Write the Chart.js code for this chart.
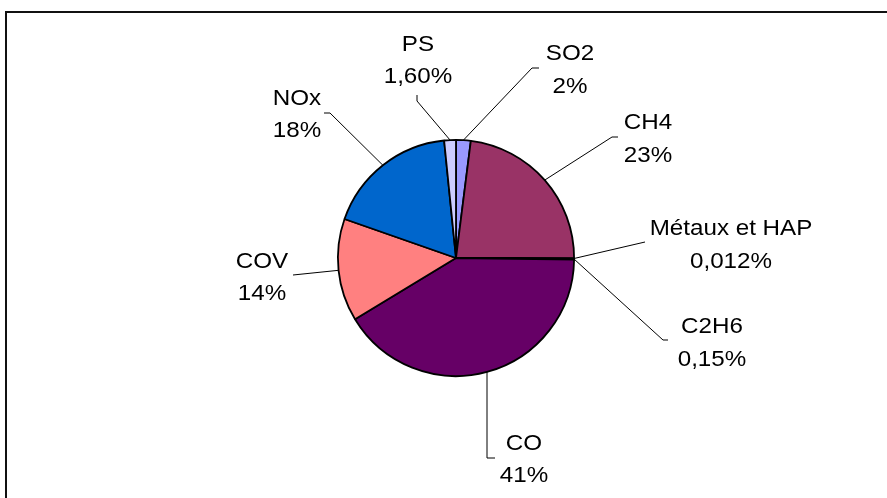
<!DOCTYPE html>
<html>
<head>
<meta charset="utf-8">
<script src="https://cdn.jsdelivr.net/npm/chart.js@4"></script>
<style>
  html, body { margin: 0; padding: 0; background: #fff; overflow: hidden; }
  #wrap { position: relative; width: 887px; height: 498px; }
  #frame { position: absolute; left: 5px; top: 11px; width: 1000px; height: 600px; border: 2px solid #111; box-sizing: border-box; }
  canvas { position: absolute; left: 0; top: 0; }
</style>
</head>
<body>
<div id="wrap">
  <div id="frame"></div>
  <canvas id="c" width="887" height="498"></canvas>
</div>
<script>
// données (ordre Excel : départ à midi, sens horaire)
const labels = ['SO2', 'CH4', 'Métaux et HAP', 'C2H6', 'CO', 'COV', 'NOx', 'PS'];
const values = [2, 23, 0.012, 0.15, 41, 14, 18, 1.6];
const pctText = ['2%', '23%', '0,012%', '0,15%', '41%', '14%', '18%', '1,60%'];
const colors = ['#9999FF', '#993366', '#FFFFCC', '#CCFFFF', '#660066', '#FF8080', '#0066CC', '#CCCCFF'];

// position des étiquettes (centre du texte, lignes de base) + coudes des traits de rappel
const labelPos = [
  { x: 570, y: 60, y2: 93, leader: [[539, 68], [532, 68]] },
  { x: 648, y: 129, y2: 162, leader: [[618, 137], [612, 137]] },
  { x: 731, y: 235, y2: 268, leader: [[645, 242]] },
  { x: 712, y: 333, y2: 366, leader: [[668, 340], [663, 340]] },
  { x: 524, y: 450, y2: 482, leader: [[495, 458], [487, 458]] },
  { x: 262, y: 268, y2: 300, leader: [[293, 275]] },
  { x: 297, y: 105, y2: 137, leader: [[324, 113], [330, 113]] },
  { x: 418, y: 51, y2: 83, leader: [[417, 95], [417, 101]] }
];

const labelPlugin = {
  id: 'labels',
  afterDatasetsDraw(chart) {
    const ctx = chart.ctx;
    const arcs = chart.getDatasetMeta(0).data;
    ctx.save();
    ctx.strokeStyle = '#000';
    ctx.lineWidth = 1;
    arcs.forEach((arc, i) => {
      const p = arc.getProps(['x', 'y', 'startAngle', 'endAngle', 'outerRadius'], true);
      const mid = (p.startAngle + p.endAngle) / 2;
      const ax = p.x + Math.cos(mid) * p.outerRadius;
      const ay = p.y + Math.sin(mid) * p.outerRadius;
      const lp = labelPos[i];
      ctx.beginPath();
      ctx.moveTo(lp.leader[0][0], lp.leader[0][1]);
      lp.leader.slice(1).forEach(pt => ctx.lineTo(pt[0], pt[1]));
      ctx.lineTo(ax, ay);
      ctx.stroke();
    });
    ctx.fillStyle = '#000';
    ctx.font = '22px "Liberation Sans", Arial, sans-serif';
    ctx.textAlign = 'center';
    ctx.textBaseline = 'alphabetic';
    arcs.forEach((arc, i) => {
      const lp = labelPos[i];
      [[labels[i], lp.y], [pctText[i], lp.y2]].forEach(([t, y]) => {
        ctx.save();
        ctx.translate(lp.x, y);
        ctx.scale(1.1, 1);
        ctx.fillText(t, 0, 0);
        ctx.restore();
      });
    });
    ctx.restore();
  }
};

new Chart(document.getElementById('c'), {
  type: 'pie',
  data: {
    labels: labels,
    datasets: [{
      data: values,
      backgroundColor: colors,
      borderColor: '#000',
      borderWidth: 1.8,
      borderAlign: 'center'
    }]
  },
  options: {
    responsive: false,
    animation: false,
    layout: { padding: { left: 337, right: 312, top: 139, bottom: 121 } },
    plugins: { legend: { display: false }, tooltip: { enabled: false } }
  },
  plugins: [labelPlugin]
});
</script>
</body>
</html>
